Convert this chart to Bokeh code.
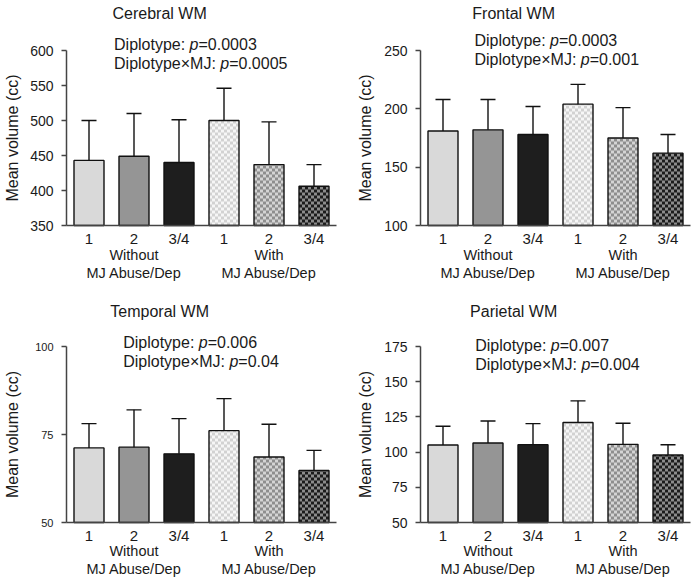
import math
from bokeh.plotting import figure
from bokeh.layouts import column, row
from bokeh.models import Range1d, FixedTicker, Label, LinearAxis
from bokeh.embed import file_html
from bokeh.resources import INLINE

# ---------------- data ----------------
diplotypes = ["1", "2", "3/4", "1", "2", "3/4"]
group_top = ["Without", "With"]
group_bottom = ["MJ Abuse/Dep", "MJ Abuse/Dep"]

cerebral_mean = [443, 449, 440, 500, 437, 406]
cerebral_upper = [500, 510, 501, 546, 498, 437]
cerebral_ticks = [350, 400, 450, 500, 550, 600]

frontal_mean = [181, 182, 178, 204, 175, 162]
frontal_upper = [208, 208, 202, 221, 201, 178]
frontal_ticks = [100, 150, 200, 250]

temporal_mean = [71.2, 71.4, 69.5, 76.1, 68.6, 64.8]
temporal_upper = [78.1, 82.0, 79.5, 85.2, 77.9, 70.5]
temporal_ticks = [50, 75, 100]

parietal_mean = [105.0, 106.5, 105.3, 121.0, 105.5, 97.9]
parietal_upper = [118.4, 122.1, 120.2, 136.4, 120.5, 105.2]
parietal_ticks = [50, 75, 100, 125, 150, 175]

titles = ["Cerebral WM", "Frontal WM", "Temporal WM", "Parietal WM"]
p_diplotype = ["0.0003", "0.0003", "0.006", "0.007"]
p_interaction = ["0.0005", "0.001", "0.04", "0.004"]
y_label = "Mean volume (cc)"

# ---------------- style ----------------
FONT = "Liberation Sans"
TXT = "#1a1a1a"
AXC = "#444444"
BAR_W = 2.0 / 3.0
PX_PER_CAT = 45.0
solid_fill = ["#d9d9d9", "#959595", "#1e1e1e"]
checker_light = {3: "#f6f6f6", 4: "#d4d4d4", 5: "#8c8c8c"}
checker_dark = {3: "#d2d2d2", 4: "#8e8e8e", 5: "#1c1c1c"}

ADV = {"D": 722, "i": 222, "p": 556, "l": 222, "o": 556, "t": 278, "y": 500,
       "e": 556, ":": 278, " ": 278, "\u00d7": 584, "M": 833, "J": 500}


def text_w(s, size):
    return sum(ADV.get(c, 556) for c in s) * size / 1000.0


def make_panel(idx, mean, upper, yticks, fig_w, fig_h, ax_left, ax_top, ax_bot,
               tick_fs, title_dy, ann_x, ann_dy, group_dy, ylab_dx):
    y_lo, y_hi = yticks[0], yticks[-1]
    fh = ax_bot - ax_top
    u = (y_hi - y_lo) / fh
    x0 = -0.5 - ax_left / PX_PER_CAT
    x1 = x0 + fig_w / PX_PER_CAT
    y1 = y_hi + ax_top * u
    y0 = y_lo - (fig_h - ax_bot) * u
    p = figure(width=fig_w, height=fig_h,
               x_range=Range1d(x0, x1), y_range=Range1d(y0, y1),
               output_backend="svg", toolbar_location=None,
               x_axis_location=None, y_axis_location=None, min_border=0)
    p.outline_line_color = None
    p.grid.visible = False
    p.background_fill_color = "white"
    p.border_fill_color = "white"

    xs = list(range(len(mean)))
    fills = solid_fill + [checker_light[k] for k in (3, 4, 5)]
    p.vbar(x=xs, top=mean, bottom=y_lo, width=BAR_W,
           fill_color=fills, line_color=None)

    # checkerboard cells (3 px squares)
    ncol = 10
    cw = BAR_W / ncol
    ch = 3.0 * u
    L, R, B, T, C = [], [], [], [], []
    for k in (3, 4, 5):
        left0 = k - BAR_W / 2
        nrows = int(math.ceil((mean[k] - y_lo) / ch))
        for r in range(nrows):
            b = y_lo + r * ch
            t = min(b + ch, mean[k])
            for c in range(ncol):
                if (r + c) % 2 == 0:
                    L.append(left0 + c * cw)
                    R.append(left0 + (c + 1) * cw)
                    B.append(b)
                    T.append(t)
                    C.append(checker_dark[k])
    p.quad(left=L, right=R, bottom=B, top=T, fill_color=C, line_color=None)

    p.vbar(x=xs, top=mean, bottom=y_lo, width=BAR_W,
           fill_color=None, line_color="#111111", line_width=1.4)

    # upper error bars
    cap = BAR_W / 4
    p.segment(x0=xs, y0=mean, x1=xs, y1=upper, line_color="#111111", line_width=1.4)
    p.segment(x0=[x - cap for x in xs], y0=upper, x1=[x + cap for x in xs], y1=upper,
              line_color="#111111", line_width=1.4)

    # axes (fixed inside the frame so that all texts can live in the frame)
    xa = LinearAxis(fixed_location=y_lo, bounds=(-0.5, 5.5))
    xa.ticker = FixedTicker(ticks=xs)
    xa.major_label_overrides = {i: d for i, d in enumerate(diplotypes)}
    xa.major_tick_line_color = None
    xa.minor_tick_line_color = None
    xa.major_tick_out = 0
    xa.major_tick_in = 0
    xa.major_label_standoff = 4
    xa.axis_line_color = AXC
    xa.axis_line_width = 1.5
    xa.major_label_text_font = FONT
    xa.major_label_text_font_size = "15px"
    xa.major_label_text_color = TXT
    p.add_layout(xa, "below")

    ya = LinearAxis(fixed_location=-0.5, bounds=(y_lo, y_hi))
    ya.ticker = FixedTicker(ticks=yticks)
    ya.minor_tick_line_color = None
    ya.major_tick_out = 5
    ya.major_tick_in = 0
    ya.major_tick_line_color = AXC
    ya.major_tick_line_width = 1.5
    ya.axis_line_color = AXC
    ya.axis_line_width = 1.5
    ya.major_label_standoff = 8
    ya.major_label_text_font = FONT
    ya.major_label_text_font_size = tick_fs
    ya.major_label_text_color = TXT
    p.add_layout(ya, "left")

    # y axis title
    p.add_layout(Label(x=-0.5, y=(y_lo + y_hi) / 2, x_offset=ylab_dx, text=y_label,
                       angle=math.pi / 2, text_align="center", text_baseline="middle",
                       text_font=FONT, text_font_size="16px", text_color=TXT))

    # group labels below the axis
    for gi, gx in enumerate((1, 4)):
        p.add_layout(Label(x=gx, y=y_lo, y_offset=group_dy[0], text=group_top[gi],
                           text_align="center", text_baseline="middle",
                           text_font=FONT, text_font_size="14.5px", text_color=TXT))
        p.add_layout(Label(x=gx, y=y_lo, y_offset=group_dy[1], text=group_bottom[gi],
                           text_align="center", text_baseline="middle",
                           text_font=FONT, text_font_size="14.5px", text_color=TXT))

    # panel title
    p.add_layout(Label(x=1.57, y=y_hi, y_offset=title_dy, text=titles[idx],
                       text_align="center", text_baseline="middle",
                       text_font=FONT, text_font_size="16px", text_color=TXT))

    # statistics with italic p
    fs = 16
    lines = [("Diplotype: ", p_diplotype[idx]), ("Diplotype\u00d7MJ: ", p_interaction[idx])]
    for (pre, val), dy in zip(lines, ann_dy):
        w1 = text_w(pre, fs)
        wp = text_w("p", fs)
        for txt, off, style in ((pre, 0, "normal"), ("p", w1, "italic"),
                                ("=" + val, w1 + wp, "normal")):
            p.add_layout(Label(x=ann_x, y=y_hi, x_offset=off, y_offset=dy, text=txt,
                               text_align="left", text_baseline="middle",
                               text_font=FONT, text_font_size=f"{fs}px",
                               text_font_style=style, text_color=TXT))
    return p


p1 = make_panel(0, cerebral_mean, cerebral_upper, cerebral_ticks, 354, 291, 66, 50, 225,
                "14px", 37, 0.556, (6, -13), (-29, -47), -54)
p2 = make_panel(1, frontal_mean, frontal_upper, frontal_ticks, 344, 291, 66, 50, 225,
                "14px", 37, 0.70, (10, -9), (-29, -47), -55)
p3 = make_panel(2, temporal_mean, temporal_upper, temporal_ticks, 354, 289, 66, 55, 231,
                "11px", 35, 0.76, (4, -15), (-28, -46), -54)
p4 = make_panel(3, parietal_mean, parietal_upper, parietal_ticks, 344, 289, 66, 55, 231,
                "14px", 35, 0.715, (1, -18), (-28, -46), -55)

layout = column(row(p1, p2), row(p3, p4))

with open("out.html", "w") as f:
    f.write(file_html(layout, INLINE))
